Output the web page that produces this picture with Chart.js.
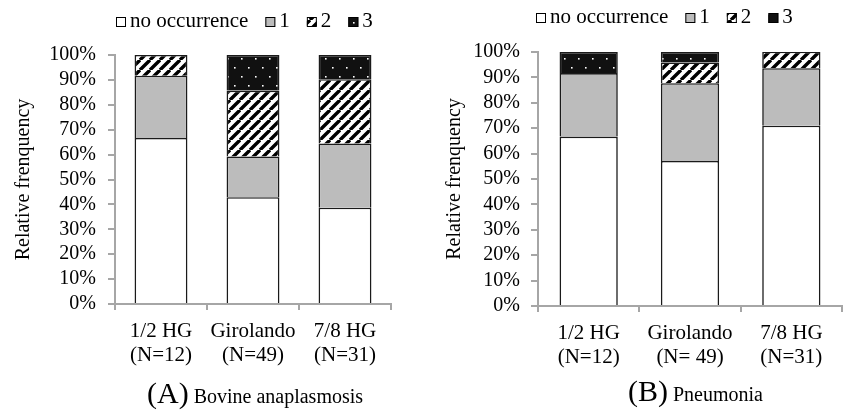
<!DOCTYPE html>
<html><head><meta charset="utf-8">
<script src="https://cdn.jsdelivr.net/npm/chart.js@4.4.0/dist/chart.umd.min.js"></script>
<style>
html,body{margin:0;padding:0;background:#fff;width:843px;height:411px;overflow:hidden}
#a{position:absolute;left:0;top:0}
#b{position:absolute;left:421px;top:0}
</style></head><body>
<canvas id="a" width="421" height="411"></canvas>
<canvas id="b" width="422" height="411"></canvas>
<script>
// ---- data ----
const seriesNames = ['no occurrence', '1', '2', '3'];
const labelsA = [['1/2 HG', '(N=12)'], ['Girolando', '(N=49)'], ['7/8 HG', '(N=31)']];
const labelsB = [['1/2 HG', '(N=12)'], ['Girolando', '(N= 49)'], ['7/8 HG', '(N=31)']];
// (A) Bovine anaplasmosis, relative frequency (%)
const anaNone  = [66.7, 42.9, 38.7];
const anaOne   = [25.0, 16.3, 25.8];
const anaTwo   = [8.3, 26.5, 25.8];
const anaThree = [0, 14.3, 9.7];
// (B) Pneumonia, relative frequency (%)
const pneNone  = [66.7, 57.1, 71.0];
const pneOne   = [25.0, 30.6, 22.6];
const pneTwo   = [0, 8.2, 6.5];
const pneThree = [8.3, 4.1, 0];
const yTicksPct = [0, 10, 20, 30, 40, 50, 60, 70, 80, 90, 100];
const yTitle = 'Relative frenquency';
const captionA = ['(A)', 'Bovine anaplasmosis'];
const captionB = ['(B)', 'Pneumonia'];

const F = "'Liberation Serif','Times New Roman',serif";

function hatchPattern() {
  const c = document.createElement('canvas'); c.width = 10; c.height = 10;
  const x = c.getContext('2d');
  x.fillStyle = '#fff'; x.fillRect(0, 0, 10, 10);
  x.strokeStyle = '#000'; x.lineWidth = 3.4; x.beginPath();
  for (const o of [-10, 0, 10]) { x.moveTo(o, 10); x.lineTo(o + 10, 0); }
  x.stroke();
  return x.createPattern(c, 'repeat');
}
function dotPattern() {
  const c = document.createElement('canvas'); c.width = 14; c.height = 18;
  const x = c.getContext('2d');
  x.fillStyle = '#111'; x.fillRect(0, 0, 14, 18);
  x.fillStyle = '#fff';
  x.fillRect(3, 4, 1.6, 1.6); x.fillRect(10, 13, 1.6, 1.6);
  return x.createPattern(c, 'repeat');
}

const legendCaption = {
  id: 'legendCaption',
  afterDraw(chart, args, o) {
    const ctx = chart.ctx;
    ctx.save();
    ctx.font = '21px ' + F;
    ctx.textBaseline = 'alphabetic';
    let x = chart.chartArea.left + o.dx;
    chart.data.datasets.forEach(ds => {
      ctx.fillStyle = ds.backgroundColor;
      ctx.fillRect(x, o.base - 10, 10, 10);
      ctx.strokeStyle = '#000'; ctx.lineWidth = 1;
      ctx.strokeRect(x + 0.5, o.base - 9.5, 9, 9);
      ctx.fillStyle = '#000';
      ctx.fillText(ds.label, x + 14, o.base);
      x += 14 + ctx.measureText(ds.label).width + 17;
    });
    // caption
    ctx.font = '30px ' + F;
    ctx.fillText(o.caption[0], o.capX, o.capY);
    const w = ctx.measureText(o.caption[0]).width;
    ctx.font = '20px ' + F;
    ctx.fillText(o.caption[1], o.capX + w + 5, o.capY);
    ctx.restore();
  }
};

const hp = hatchPattern(), dp = dotPattern();

function makeChart(id, labels, series, o) {
  const fills = ['#ffffff', '#bcbcbc', hp, dp];
  new Chart(document.getElementById(id), {
    type: 'bar',
    data: {
      labels,
      datasets: series.map((d, i) => ({
        label: seriesNames[i], data: d, backgroundColor: fills[i],
        borderColor: '#1a1a1a', borderWidth: 1.6, borderSkipped: 'start',
        barPercentage: 0.575, categoryPercentage: 1
      }))
    },
    options: {
      responsive: false, animation: false, events: [],
      layout: { padding: { top: o.top, right: o.right, left: 0, bottom: 0 } },
      plugins: {
        legend: { display: false }, tooltip: { enabled: false },
        legendCaption: { dx: o.legDx, base: o.legBase, caption: o.caption, capX: o.capX, capY: o.capY }
      },
      scales: {
        x: {
          stacked: true,
          grid: { drawOnChartArea: false, drawTicks: true, tickLength: 6, color: '#a6a6a6', lineWidth: 2 },
          border: { color: '#a6a6a6', width: 2 },
          ticks: { color: '#000', font: { family: F, size: 21, lineHeight: 1.15 }, padding: o.xpad, maxRotation: 0, autoSkip: false },
          afterFit: s => { s.height = 411 - o.bottomY; }
        },
        y: {
          stacked: true, min: 0, max: 100,
          afterBuildTicks: s => { s.ticks = yTicksPct.map(v => ({ value: v })); },
          ticks: { callback: v => v + '%', color: '#000', font: { family: F, size: 20 }, padding: o.ypad, autoSkip: false },
          grid: { drawOnChartArea: false, drawTicks: true, tickLength: 7, color: '#a6a6a6', lineWidth: 2 },
          border: { color: '#a6a6a6', width: 2 },
          title: { display: true, text: yTitle, color: '#000', font: { family: F, size: 20 }, padding: { top: o.tpad, bottom: 0 } },
          afterFit: s => { s.width = o.axisX; }
        }
      }
    },
    plugins: [legendCaption]
  });
}

makeChart('a', labelsA, [anaNone, anaOne, anaTwo, anaThree],
  { top: 55, right: 30, bottomY: 304, axisX: 115, xpad: 9, ypad: 12, tpad: 12,
    legDx: 1, legBase: 27, caption: captionA, capX: 147, capY: 403 });
makeChart('b', labelsB, [pneNone, pneOne, pneTwo, pneThree],
  { top: 52, right: 1, bottomY: 306, axisX: 117, xpad: 9, ypad: 11, tpad: 22,
    legDx: -2, legBase: 23, caption: captionB, capX: 207, capY: 401 });
</script>
</body></html>
